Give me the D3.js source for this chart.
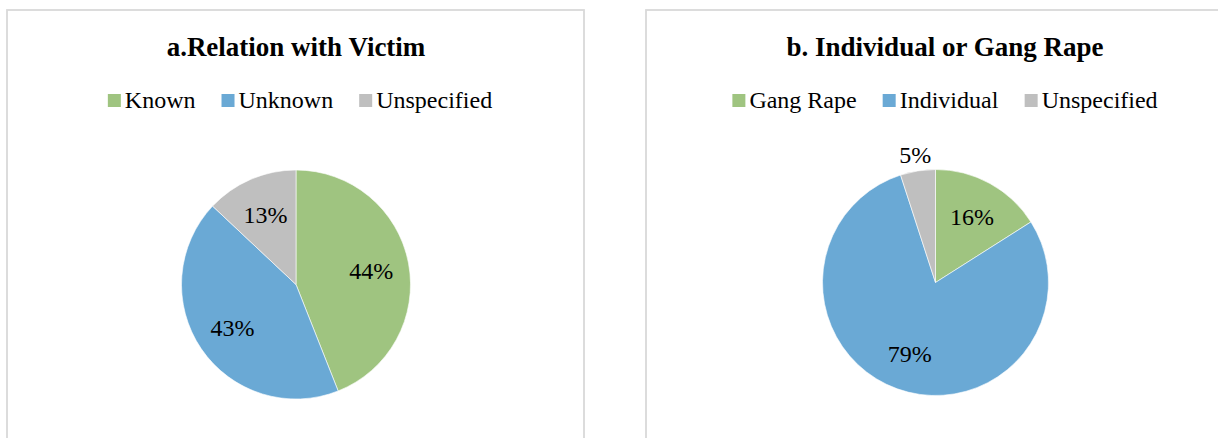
<!DOCTYPE html>
<html>
<head>
<meta charset="utf-8">
<script src="https://cdn.jsdelivr.net/npm/d3@7"></script>
<style>
  body { margin: 0; background: #fff; }
  svg { display: block; }
</style>
</head>
<body>
<div id="chart"></div>
<script>
// chart data
var titlesA = "a.Relation with Victim";
var categoriesA = ["Known", "Unknown", "Unspecified"];
var valuesA = [44, 43, 13];

var titlesB = "b. Individual or Gang Rape";
var categoriesB = ["Gang Rape", "Individual", "Unspecified"];
var valuesB = [16, 79, 5];

var colors = ["#9fc480", "#6aa9d5", "#bfbfbf"];
var fontFamily = "'Liberation Serif', 'Times New Roman', Times, 'DejaVu Serif', serif";

var width = 1218, height = 438;

var svg = d3.select("#chart")
    .append("svg")
    .attr("width", width)
    .attr("height", height)
    .style("font-family", fontFamily);

function drawPanel(opts) {
    var g = svg.append("g");

    // panel frame
    g.append("rect")
        .attr("x", opts.x)
        .attr("y", 10)
        .attr("width", opts.w)
        .attr("height", 460)
        .attr("fill", "#fff")
        .attr("stroke", "#d9d9d9")
        .attr("stroke-width", 1.8);

    g.append("text")
        .attr("x", opts.titleX)
        .attr("y", 56)
        .attr("text-anchor", "middle")
        .attr("font-family", fontFamily)
        .attr("font-size", 27)
        .attr("font-weight", "bold")
        .attr("fill", "#000")
        .text(opts.title);

    // legend, centred on legendX
    var legend = g.append("g");
    var items = legend.selectAll("g")
        .data(opts.categories)
        .join("g");
    items.append("rect")
        .attr("width", 13)
        .attr("height", 13)
        .attr("y", 94)
        .attr("fill", (d, i) => colors[i]);
    items.append("text")
        .attr("x", 17)
        .attr("y", 108)
        .attr("font-family", fontFamily)
        .attr("font-size", 24)
        .attr("fill", "#000")
        .text(d => d);
    var xpos = 0;
    items.each(function() {
        d3.select(this).attr("transform", "translate(" + xpos + ",0)");
        xpos += this.getBBox().width + 26;
    });
    var totalW = xpos - 26;
    legend.attr("transform", "translate(" + (opts.legendX - totalW / 2) + ",0)");

    // pie
    var pie = d3.pie().sort(null).value(d => d);
    var arcs = pie(opts.values);
    var r = opts.r;
    var arc = d3.arc().innerRadius(0).outerRadius(r);
    var labelIn = d3.arc().innerRadius(r * 0.67).outerRadius(r * 0.67);
    var labelOut = d3.arc().innerRadius(r * 1.15).outerRadius(r * 1.15);

    var pg = g.append("g")
        .attr("transform", "translate(" + opts.cx + "," + opts.cy + ")");

    pg.selectAll("path")
        .data(arcs)
        .join("path")
        .attr("d", arc)
        .attr("fill", (d, i) => colors[i])
        .attr("stroke", "#fff")
        .attr("stroke-width", 0.6);

    pg.selectAll("text")
        .data(arcs)
        .join("text")
        .attr("transform", d => {
            var c = (d.data < 8 ? labelOut : labelIn).centroid(d);
            return "translate(" + c + ")";
        })
        .attr("text-anchor", "middle")
        .attr("dy", "0.35em")
        .attr("font-family", fontFamily)
        .attr("font-size", 24)
        .attr("fill", "#000")
        .text(d => d.data + "%");
}

drawPanel({
    x: 7, w: 577, title: titlesA, titleX: 296, legendX: 300,
    categories: categoriesA, values: valuesA,
    cx: 296, cy: 284.5, r: 114.5
});

drawPanel({
    x: 646, w: 600, title: titlesB, titleX: 945, legendX: 945,
    categories: categoriesB, values: valuesB,
    cx: 935.5, cy: 282.5, r: 113
});
</script>
</body>
</html>
